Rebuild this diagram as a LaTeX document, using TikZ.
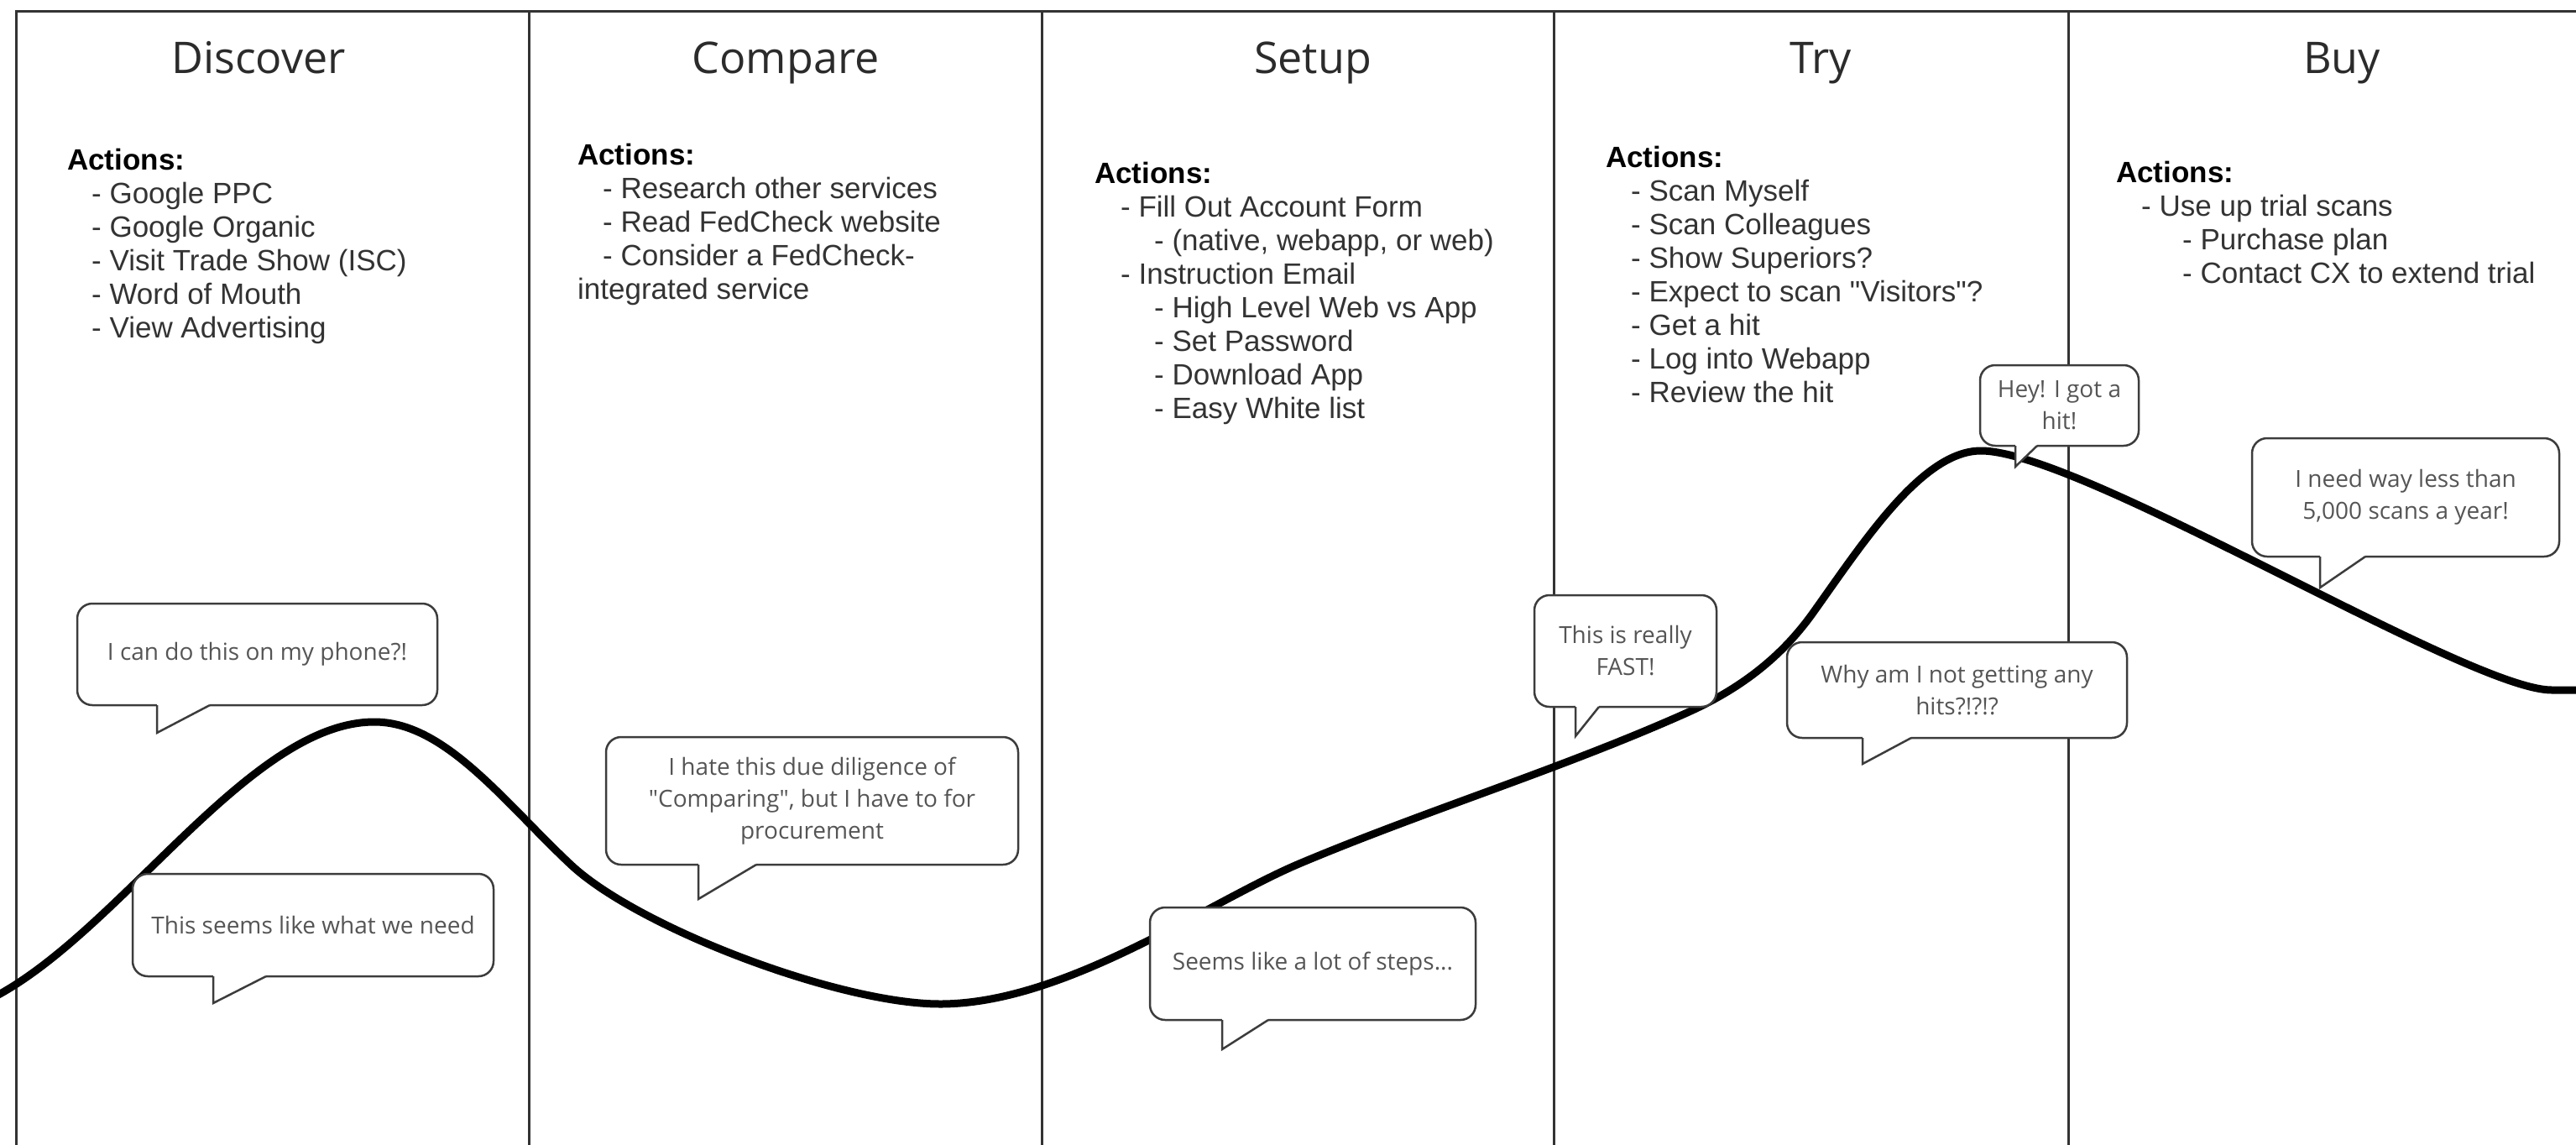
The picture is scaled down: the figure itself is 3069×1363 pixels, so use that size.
\documentclass[tikz,border=0pt]{standalone}
\usepackage{fontspec}
\newfontfamily\osans{Open Sans}
\newfontfamily\lsans{Liberation Sans}
\definecolor{framecol}{HTML}{333333}
\definecolor{bubcol}{HTML}{3C3C3C}
\definecolor{bubtext}{HTML}{555555}
\definecolor{titlecol}{HTML}{2B2B2B}
\definecolor{listcol}{HTML}{333333}
\newcommand\bubtail[4]{%
  \fill[white] (#1,#3-3) rectangle (#2,#3+1.6);
  \fill[white] (#1,#3) -- (#1,#4) -- (#2,#3) -- cycle;
  \draw[bubline] (#1,#3) -- (#1,#4) -- (#2,#3);
}
\tikzset{
  frame/.style={draw=framecol, line width=3pt},
  journey/.style={draw=black, line width=9pt},
  bubline/.style={draw=bubcol, line width=2.5pt, line join=miter},
  bubble/.style={draw=bubcol, line width=2.5pt, fill=white, rounded corners=18pt,
    inner sep=0pt, align=center, text=bubtext, font=\osans\fontsize{28}{38}\selectfont},
  title/.style={anchor=base, inner sep=0pt, text=titlecol, font=\osans\fontsize{52}{60}\selectfont},
  lst/.style={anchor=base west, inner sep=0pt, text=listcol, font=\lsans\fontsize{35}{40}\selectfont},
  lhd/.style={anchor=base west, inner sep=0pt, text=black, font=\lsans\bfseries\fontsize{35}{40}\selectfont},
}
\begin{document}
\begin{tikzpicture}[x=1pt, y=-1pt]
\useasboundingbox (0,0) rectangle (3069,1363);
\fill[white] (0,0) rectangle (3069,1363);

% frame of the five columns
\draw[frame] (19,1370) -- (19,13) -- (3080,13);
\foreach \cx in {630,1241,1851,2464} \draw[frame] (\cx,13) -- (\cx,1370);

% titles
\node[title] (tDiscover) at (308,87) {Discover};
\node[title] (tCompare) at (936,87) {Compare};
\node[title] (tSetup) at (1564,87) {Setup};
\node[title] (tTry) at (2169,87) {Try};
\node[title] (tBuy) at (2790,87) {Buy};

% Discover actions
\node[lhd] (da) at (80,202) {Actions:};
\node[lst] (d1) at (109,242) {- Google PPC};
\node[lst] (d2) at (109,282) {- Google Organic};
\node[lst] (d3) at (109,322) {- Visit Trade Show (ISC)};
\node[lst] (d4) at (109,362) {- Word of Mouth};
\node[lst] (d5) at (109,402) {- View Advertising};

% Compare actions
\node[lhd] (ca) at (688,196) {Actions:};
\node[lst] (c1) at (718,236) {- Research other services};
\node[lst] (c2) at (718,276) {- Read FedCheck website};
\node[lst] (c3) at (718,316) {- Consider a FedCheck-};
\node[lst] (c4) at (688,356) {integrated service};

% Setup actions
\node[lhd] (sa) at (1304,218) {Actions:};
\node[lst] (s1) at (1335,258) {- Fill Out Account Form};
\node[lst] (s2) at (1375,298) {- (native, webapp, or web)};
\node[lst] (s3) at (1335,338) {- Instruction Email};
\node[lst] (s4) at (1375,378) {- High Level Web vs App};
\node[lst] (s5) at (1375,418) {- Set Password};
\node[lst] (s6) at (1375,458) {- Download App};
\node[lst] (s7) at (1375,498) {- Easy White list};

% Try actions
\node[lhd] (ta) at (1913,199) {Actions:};
\node[lst] (t1) at (1943,239) {- Scan Myself};
\node[lst] (t2) at (1943,279) {- Scan Colleagues};
\node[lst] (t3) at (1943,319) {- Show Superiors?};
\node[lst] (t4) at (1943,359) {- Expect to scan "Visitors"?};
\node[lst] (t5) at (1943,399) {- Get a hit};
\node[lst] (t6) at (1943,439) {- Log into Webapp};
\node[lst] (t7) at (1943,479) {- Review the hit};

% Buy actions
\node[lhd] (ua) at (2521,217) {Actions:};
\node[lst] (u1) at (2551,257) {- Use up trial scans};
\node[lst] (u2) at (2600,297) {- Purchase plan};
\node[lst] (u3) at (2600,337) {- Contact CX to extend trial};

% journey curve
\draw[journey] (-20,1195) -- (0,1184)
  .. controls (150,1100) and (300,860) .. (446,860)
  .. controls (530,860) and (600,955) .. (680,1030)
  .. controls (760,1105) and (1000,1196) .. (1120,1196)
  .. controls (1270,1196) and (1440,1074) .. (1550,1028)
  .. controls (1700,965) and (1860,916) .. (2010,849)
  .. controls (2070,822) and (2120,786) .. (2160,730)
  .. controls (2220,646) and (2290,537) .. (2360,537)
  .. controls (2480,537) and (2940,822) .. (3040,822)
  -- (3090,822);

% speech bubbles
\node[bubble, minimum width=429pt, minimum height=121pt] (b1) at (306.5,779.5) {I can do this on my phone?!};
\bubtail{187}{250}{840}{873}
\node[bubble, minimum width=430pt, minimum height=122pt] (b2) at (373,1102) {This seems like what we need};
\bubtail{254}{317}{1163}{1195}
\node[bubble, minimum width=491pt, minimum height=152pt] (b3) at (967.5,954) {I hate this due diligence of\\"Comparing", but I have to for\\procurement};
\bubtail{832}{901}{1030}{1071}
\node[bubble, minimum width=388pt, minimum height=134pt] (b4) at (1564,1148) {Seems like a lot of steps...};
\bubtail{1456}{1511}{1215}{1250}
\node[bubble, minimum width=217pt, minimum height=133pt] (b5) at (1936.5,775.5) {This is really\\FAST!};
\bubtail{1877}{1905}{842}{877}
\node[bubble, minimum width=189pt, minimum height=96pt] (b6) at (2453.5,483) {Hey! I got a\\hit!};
\bubtail{2401}{2427}{531}{556}
\node[bubble, minimum width=405pt, minimum height=114pt] (b7) at (2331.5,822) {Why am I not getting any\\hits?!?!?};
\bubtail{2219}{2277}{879}{910}
\node[bubble, minimum width=366pt, minimum height=141pt] (b8) at (2866,592.5) {I need way less than\\5,000 scans a year!};
\bubtail{2764}{2818}{663}{700}
\end{tikzpicture}
\end{document}
